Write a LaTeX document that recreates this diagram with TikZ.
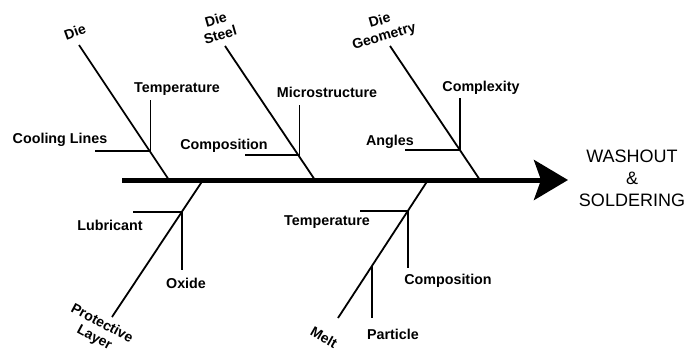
\documentclass[tikz,border=0pt]{standalone}
\usepackage{fontspec}
\setmainfont{Liberation Sans}
\usetikzlibrary{arrows.meta}

\begin{document}
\begin{tikzpicture}[
  x=1pt,y=-1pt,
  lbl/.style={align=center,inner sep=1pt,font=\fontsize{14.3}{15}\selectfont\bfseries},
  cause/.style={align=center,inner sep=1pt,font=\fontsize{14}{16}\selectfont\bfseries},
  bone/.style={line width=1.8pt},
  twig/.style={line width=1.6pt},
  spine/.style={line width=5pt,-{Stealth[length=34pt,width=40pt,inset=7pt]}}
]
  \useasboundingbox (0,0) rectangle (686,356);

  \coordinate (tail) at (122,180);
  \node[align=center,font=\fontsize{18}{22}\selectfont] (effect) at (632,178)
    {WASHOUT\\\&\\SOLDERING};
  \coordinate (head) at (568,180);
  \draw[spine] (tail) -- (head);

  \node[cause,rotate=20] (die) at (75,32) {Die};
  \coordinate (die0) at (79,45);
  \coordinate (die1) at (169,180);
  \coordinate (dieJ) at (150.5,151);
  \draw[bone] (die0) -- (die1);
  \node[lbl] (temp1) at (177,89) {Temperature};
  \node[lbl] (cool) at (60,140) {Cooling Lines};
  \coordinate (temp1e) at (150.5,100);
  \coordinate (coole) at (95,151);
  \draw[twig] (dieJ) -- (temp1e);
  \draw[twig] (dieJ) -- (coole);

  \node[cause,rotate=16] (steel) at (218,27) {Die\\Steel};
  \coordinate (steel0) at (225,46);
  \coordinate (steel1) at (315,180);
  \coordinate (steelJ) at (299.5,155);
  \draw[bone] (steel0) -- (steel1);
  \node[lbl] (micro) at (327,92) {Microstructure};
  \node[lbl] (comp1) at (224,146) {Composition};
  \coordinate (microe) at (299.5,105);
  \coordinate (comp1e) at (245,155);
  \draw[twig] (steelJ) -- (microe);
  \draw[twig] (steelJ) -- (comp1e);

  \node[cause,rotate=16] (geo) at (382,29) {Die\\Geometry};
  \coordinate (geo0) at (390,46);
  \coordinate (geo1) at (480,180);
  \coordinate (geoJ) at (460,150);
  \draw[bone] (geo0) -- (geo1);
  \node[lbl] (cplx) at (481,88) {Complexity};
  \node[lbl] (angles) at (390,142) {Angles};
  \coordinate (cplxe) at (460,98);
  \coordinate (anglese) at (405,150);
  \draw[twig] (geoJ) -- (cplxe);
  \draw[twig] (geoJ) -- (anglese);

  \node[cause,rotate=-28] (prot) at (98,331) {Protective\\Layer};
  \coordinate (prot0) at (112,317);
  \coordinate (prot1) at (203,180);
  \coordinate (protJ) at (182,212);
  \draw[bone] (prot0) -- (prot1);
  \node[lbl] (lub) at (110,225) {Lubricant};
  \node[lbl] (oxide) at (186,283) {Oxide};
  \coordinate (lube) at (133,212);
  \coordinate (oxidee) at (182,270);
  \draw[twig] (protJ) -- (lube);
  \draw[twig] (protJ) -- (oxidee);

  \node[cause,rotate=-30] (melt) at (324,337) {Melt};
  \coordinate (melt0) at (338,318);
  \coordinate (melt1) at (428,180);
  \coordinate (meltJ) at (408,211);
  \coordinate (meltK) at (372,266);
  \draw[bone] (melt0) -- (melt1);
  \node[lbl] (temp2) at (327,222) {Temperature};
  \node[lbl] (comp2) at (448,281) {Composition};
  \node[lbl] (part) at (393,334) {Particle};
  \coordinate (temp2e) at (360,211);
  \coordinate (comp2e) at (408,268);
  \coordinate (parte) at (372,318);
  \draw[twig] (meltJ) -- (temp2e);
  \draw[twig] (meltJ) -- (comp2e);
  \draw[twig] (meltK) -- (parte);
\end{tikzpicture}
\end{document}
